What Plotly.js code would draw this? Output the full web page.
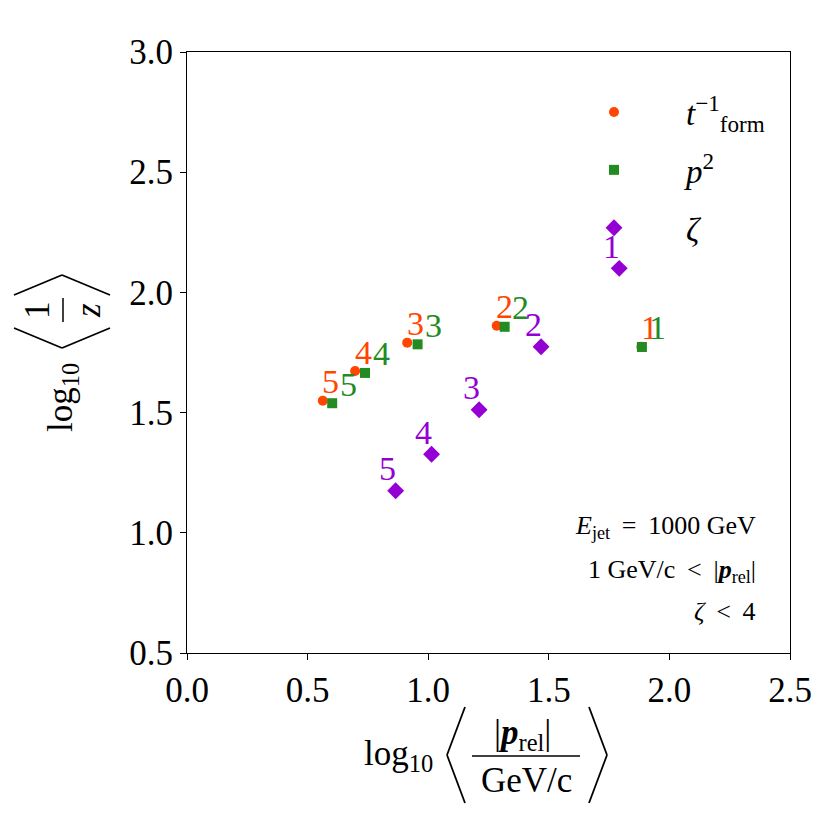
<!DOCTYPE html>
<html>
<head>
<meta charset="utf-8">
<script src="https://cdn.plot.ly/plotly-3.0.1.min.js"></script>
<style>
  html, body { margin: 0; padding: 0; background: #fff; }
  #tester { width: 830px; height: 830px; }
</style>
</head>
<body>
<div id="tester"></div>
<script>
// point labels (number of the bin)
var labels = ['1', '2', '3', '4', '5'];

// t_form^-1 series
var tformX = [1.884, 1.284, 0.913, 0.697, 0.563];
var tformY = [1.774, 1.861, 1.791, 1.673, 1.549];

// p^2 series
var p2X = [1.886, 1.317, 0.956, 0.738, 0.602];
var p2Y = [1.773, 1.857, 1.784, 1.665, 1.539];

// zeta series
var zetaX = [1.792, 1.468, 1.211, 1.014, 0.865];
var zetaY = [2.100, 1.774, 1.512, 1.327, 1.175];

var xTicks = [0.0, 0.5, 1.0, 1.5, 2.0, 2.5];
var yTicks = [0.5, 1.0, 1.5, 2.0, 2.5, 3.0];

var FONT = 'Liberation Serif, Times New Roman, serif';
var ORANGE = '#ff4500', GREEN = '#228b22', PURPLE = '#9400d3';

// pixel -> paper helpers (plot area 187..790 x 52..653)
function fx(px) { return (px - 187) / 603; }
function fy(py) { return (653 - py) / 601; }

var graphDiv = document.getElementById('tester');

var data = [{
  type: 'scatter', mode: 'markers', name: '<i>t</i><sup>\u22121</sup><sub>form</sub>',
  x: tformX, y: tformY, legendgroup: 'a',
  marker: { symbol: 'circle', size: 10, color: ORANGE }
}, {
  type: 'scatter', mode: 'markers', name: '<i>p</i><sup>2</sup>',
  x: p2X, y: p2Y, legendgroup: 'b',
  marker: { symbol: 'square', size: 10, color: GREEN }
}, {
  type: 'scatter', mode: 'markers', name: '<i>\u03b6</i>',
  x: zetaX, y: zetaY, legendgroup: 'c',
  marker: { symbol: 'diamond', size: 13, color: PURPLE }
}];

function numLabels(xs, ys, color, dx, dy) {
  return xs.map(function(x, i) {
    return {
      x: x, y: ys[i], xref: 'x', yref: 'y', text: labels[i], showarrow: false,
      xshift: dx, yshift: dy, font: { family: FONT, size: 34, color: color }
    };
  });
}

var annotations = []
  .concat(numLabels(tformX, tformY, ORANGE, 8, 19))
  .concat(numLabels(p2X, p2Y, GREEN, 16, 19))
  .concat(numLabels(zetaX, zetaY, PURPLE, -8, 22));

function txt(px, py, text, size, extra) {
  var a = { xref: 'paper', yref: 'paper', x: fx(px), y: fy(py), text: text, showarrow: false,
            xanchor: 'center', yanchor: 'middle', font: { family: FONT, size: size, color: '#000' } };
  for (var k in extra) a[k] = extra[k];
  return a;
}

// x axis title pieces
annotations.push(txt(398, 755, 'log<sub>10</sub>', 35));
annotations.push(txt(522, 735, '|<b><i>p</i></b><sub>rel</sub>|', 35));
annotations.push(txt(526, 780, 'GeV/c', 35));
// y axis title pieces
annotations.push(txt(63, 398, 'log<sub>10</sub>', 35, { textangle: -90 }));
annotations.push(txt(38, 310, '1', 35, { textangle: -90 }));
annotations.push(txt(89, 311, '<i>z</i>', 35, { textangle: -90 }));

// info box
annotations.push(txt(758, 527, '<i>E</i><sub>jet</sub> \u2009=\u2009 1000 GeV', 26, { xanchor: 'right' }));
annotations.push(txt(758, 571, '1 GeV/c \u2009&lt;\u2009 |<b><i>p</i></b><sub>rel</sub>|', 26, { xanchor: 'right' }));
annotations.push(txt(758, 611, '<i>\u03b6</i> \u2009&lt;\u2009 4', 26, { xanchor: 'right' }));

function seg(x0, y0, x1, y1, w) {
  return { type: 'line', xref: 'paper', yref: 'paper', x0: fx(x0), y0: fy(y0), x1: fx(x1), y1: fy(y1),
           line: { color: '#000', width: w || 1.8 } };
}

var shapes = [
  // x title: angle brackets and fraction bar
  seg(465, 707, 447, 755), seg(447, 755, 465, 803),
  seg(589, 707, 607, 755), seg(607, 755, 589, 803),
  seg(472, 756, 580, 756, 1.5),
  // y title
  seg(14, 328, 62, 348), seg(62, 348, 110, 328),
  seg(14, 295, 62, 275), seg(62, 275, 110, 295),
  seg(63, 298, 63, 322, 1.5)
];

var axisCommon = {
  showgrid: false, zeroline: false, showline: true, mirror: true,
  linecolor: '#000', linewidth: 1, ticks: 'outside', ticklen: 6, tickwidth: 1,
  tickcolor: '#000', tickformat: '.1f', tickfont: { family: FONT, size: 35, color: '#000' }
};

var layout = {
  width: 830, height: 830,
  margin: { l: 187, r: 40, t: 52, b: 177 },
  paper_bgcolor: '#fff', plot_bgcolor: '#fff',
  xaxis: Object.assign({}, axisCommon, { range: [0, 2.5], tickvals: xTicks }),
  yaxis: Object.assign({}, axisCommon, { range: [0.5, 3.0], tickvals: yTicks }),
  showlegend: true,
  legend: {
    x: fx(542), y: fy(84), xanchor: 'left', yanchor: 'top',
    bgcolor: 'rgba(0,0,0,0)', borderwidth: 0,
    font: { family: FONT, size: 33, color: '#000' },
    itemwidth: 134, traceorder: 'grouped', tracegroupgap: 12
  },
  annotations: annotations,
  shapes: shapes
};

Plotly.newPlot(graphDiv, data, layout, { displayModeBar: false, staticPlot: true });
</script>
</body>
</html>
